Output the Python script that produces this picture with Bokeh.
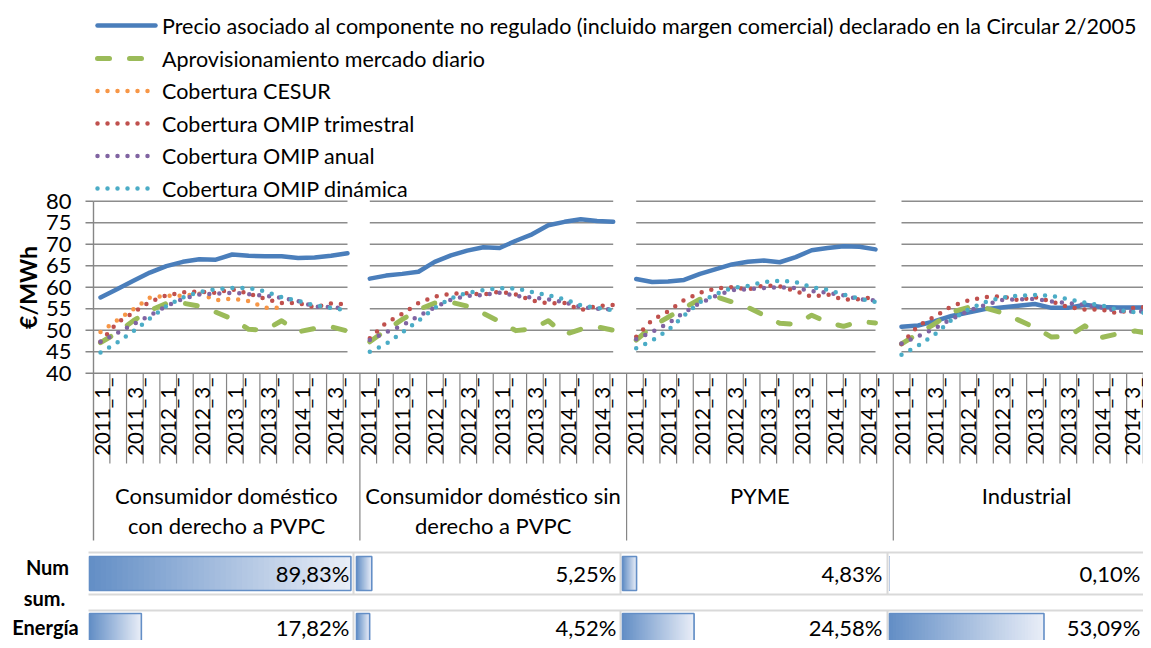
import numpy as np
from bokeh.plotting import figure
from bokeh.models import Range1d
from bokeh.core.properties import value
from bokeh.embed import file_html
from bokeh.resources import INLINE

# ---------------- data ----------------
quarter_labels = ["2011_1_", "2011_2_", "2011_3_", "2011_4_",
                  "2012_1_", "2012_2_", "2012_3_", "2012_4_",
                  "2013_1_", "2013_2_", "2013_3_", "2013_4_",
                  "2014_1_", "2014_2_", "2014_3_", "2014_4_"]
segment_titles = [["Consumidor doméstico", "con derecho a PVPC"],
                  ["Consumidor doméstico sin", "derecho a PVPC"],
                  ["PYME"],
                  ["Industrial"]]
y_ticks = [40, 45, 50, 55, 60, 65, 70, 75, 80]
y_tick_labels = ["40", "45", "50", "55", "60", "65", "70", "75", "80"]
y_axis_title = "€/MWh"

series_names = [
    "Precio asociado al componente no regulado (incluido margen comercial) declarado en la Circular 2/2005",
    "Aprovisionamiento mercado diario",
    "Cobertura CESUR",
    "Cobertura OMIP trimestral",
    "Cobertura OMIP anual",
    "Cobertura OMIP dinámica",
]

precio = [
    [57.6, 59.5, 61.5, 63.4, 64.9, 65.9, 66.5, 66.4, 67.6, 67.3, 67.2, 67.2, 66.8, 66.9, 67.3, 67.9],
    [62.0, 62.7, 63.1, 63.6, 65.9, 67.4, 68.5, 69.3, 69.1, 70.8, 72.3, 74.4, 75.2, 75.8, 75.4, 75.2],
    [61.9, 61.2, 61.3, 61.7, 63.1, 64.2, 65.3, 65.9, 66.2, 65.8, 67.0, 68.6, 69.1, 69.5, 69.4, 68.8],
    [50.8, 51.1, 52.1, 53.3, 54.1, 54.9, 55.3, 55.7, 56.1, 55.2, 55.2, 55.9, 55.4, 55.3, 55.3, 55.2],
]
diario = [
    [47.1, 49.4, 52.2, 54.6, 56.2, 56.3, 55.6, 54.2, 52.6, 50.2, 50.0, 52.2, 49.6, 50.4, 50.8, 49.8],
    [47.3, 50.0, 52.5, 54.8, 56.3, 56.5, 55.6, 53.9, 52.0, 49.9, 50.3, 52.2, 49.0, 50.2, 50.8, 50.0],
    [47.7, 50.9, 53.0, 55.2, 57.2, 57.8, 56.6, 55.3, 53.5, 51.6, 51.4, 53.5, 51.8, 50.9, 52.0, 51.7],
    [46.8, 49.2, 51.5, 54.2, 55.3, 55.2, 54.1, 52.4, 50.6, 48.4, 48.6, 51.0, 48.3, 49.2, 49.8, 49.1],
]
cesur = [
    [49.6, 52.3, 54.9, 57.6, 58.0, 58.0, 58.5, 57.0, 57.3, 56.8, 55.2, 55.2],
    [], [], [],
]
trimestral = [
    [47.3, 51.7, 54.1, 56.6, 58.1, 58.8, 59.0, 58.7, 59.5, 58.5, 57.3, 56.3, 56.3, 55.3, 56.2, 56.0],
    [48.1, 51.7, 53.8, 56.3, 57.8, 58.5, 58.6, 58.3, 59.0, 58.3, 56.9, 56.2, 56.3, 54.7, 55.6, 55.9],
    [48.5, 52.4, 54.4, 57.0, 58.7, 59.7, 60.0, 59.5, 60.4, 60.2, 59.1, 57.8, 58.3, 57.1, 57.2, 57.8],
    [46.8, 51.0, 53.2, 55.6, 56.9, 57.7, 57.9, 57.0, 57.7, 56.7, 55.4, 54.8, 54.8, 53.9, 55.3, 55.4],
]
anual = [
    [47.3, 49.3, 51.4, 53.4, 55.6, 57.3, 58.3, 58.5, 58.7, 58.4, 58.0, 57.5, 56.8, 55.5, 55.4, 55.0],
    [47.7, 49.5, 51.1, 53.3, 55.3, 57.1, 58.0, 58.2, 58.7, 58.0, 57.6, 57.2, 56.5, 55.4, 55.0, 54.8],
    [47.9, 49.6, 51.6, 54.1, 56.3, 58.0, 59.3, 59.5, 59.8, 60.0, 59.8, 59.1, 58.7, 58.1, 57.2, 56.9],
    [46.9, 48.6, 50.4, 52.6, 54.5, 55.8, 57.0, 57.2, 57.3, 56.7, 56.3, 55.9, 55.3, 54.4, 54.3, 54.4],
]
dinamica = [
    [44.8, 47.1, 49.8, 52.7, 55.6, 57.6, 58.9, 59.5, 59.8, 59.8, 59.0, 57.7, 56.8, 55.8, 55.2, 54.6],
    [45.0, 46.8, 49.5, 52.2, 55.2, 57.4, 58.7, 59.3, 59.8, 59.7, 58.9, 58.1, 57.2, 55.8, 55.2, 54.6],
    [45.8, 47.6, 50.0, 53.4, 56.5, 58.4, 59.8, 60.3, 61.2, 61.5, 61.2, 60.0, 59.4, 58.3, 57.3, 56.6],
    [44.3, 46.4, 49.0, 52.4, 54.8, 56.5, 57.6, 58.0, 58.2, 58.0, 57.2, 56.4, 55.8, 54.7, 54.2, 53.9],
]

table_row_labels = [["Num", "sum."], ["Energía"]]
num_sum = [89.83, 5.25, 4.83, 0.10]
energia = [17.82, 4.52, 24.58, 53.09]

# ---------------- layout / style ----------------
FIG_W, FIG_H = 1143, 640
X_LEFT, X_RIGHT = 0, FIG_W
Y_TOP, Y_BOTTOM = 0, FIG_H
Y80 = 200.7            # pixel row of value 80
PX_PER_UNIT = 4.3      # pixels per €/MWh
Y40 = Y80 + 40 * PX_PER_UNIT
AXIS_X = 93
CAT0 = 92.7
CAT_W = 266.7 / 16
LABEL_X_MAX = 1131
PANEL_LINE_SPANS = [(100, 347), (369.3, 612.7), (635.7, 875), (901, 1151)]
PANEL_GRID_SPANS = [(93, 347), (369.3, 612.7), (635.7, 875), (901, 1152)]

FONT = value("Lato")
GRID_C = "#8c8c8c"
AXIS_C = "#868686"
TXT_C = "#000000"

styles = [
    dict(line_color="#4a7ebb", line_width=4.5, line_cap="round", line_join="round"),
    dict(line_color="#9bbb59", line_width=5, line_dash="12 20", line_cap="round", line_join="round"),
    dict(line_color="#f79646", line_width=4.5, line_dash="0 10", line_cap="round"),
    dict(line_color="#c0504d", line_width=4.5, line_dash="0 10", line_cap="round"),
    dict(line_color="#8064a2", line_width=4.5, line_dash="0 10", line_cap="round"),
    dict(line_color="#4bacc6", line_width=4.5, line_dash="0 10", line_cap="round"),
]
all_series = [precio, diario, cesur, trimestral, anual, dinamica]

v_top = 80 + (Y80 - Y_TOP) / PX_PER_UNIT
v_bottom = 80 - (Y_BOTTOM - Y80) / PX_PER_UNIT

p = figure(width=FIG_W, height=FIG_H,
           x_range=Range1d(X_LEFT, X_RIGHT), y_range=Range1d(Y_BOTTOM, Y_TOP),
           x_axis_type=None, y_axis_type=None,
           toolbar_location=None, output_backend="svg", min_border=0)
p.outline_line_color = None
p.background_fill_color = "white"
p.extra_y_ranges = {"val": Range1d(v_bottom, v_top)}

# gridlines (per panel)
gx0, gx1, gy = [], [], []
for (a, b) in PANEL_GRID_SPANS:
    for t in y_ticks[1:]:
        gx0.append(a); gx1.append(b); gy.append(t)
p.segment(x0=gx0, x1=gx1, y0=gy, y1=gy, y_range_name="val",
          line_color=GRID_C, line_width=1.4)

# x axis line at 40 and y axis line
p.segment(x0=[AXIS_X], x1=[1152], y0=[y_ticks[0]], y1=[y_ticks[0]],
          y_range_name="val", line_color=AXIS_C, line_width=1.4)
p.segment(x0=[AXIS_X], x1=[AXIS_X], y0=[Y80], y1=[540], line_color=AXIS_C, line_width=1.4)
# y tick marks and labels
p.segment(x0=[85] * len(y_ticks), x1=[AXIS_X] * len(y_ticks), y0=y_ticks, y1=y_ticks,
          y_range_name="val", line_color=AXIS_C, line_width=1.4)
p.text(x=[71] * len(y_ticks), y=y_ticks, text=y_tick_labels, y_range_name="val",
       text_font=FONT, text_font_size=value("22px"), text_color=TXT_C,
       text_align="right", text_baseline="middle")
p.text(x=[27], y=[287], text=[y_axis_title], angle=np.pi / 2,
       text_font=FONT, text_font_size=value("23px"), text_font_style="bold",
       text_color=TXT_C, text_align="center", text_baseline="middle")

# category ticks
n_panels = len(segment_titles)
n_q = len(quarter_labels)
tx, ty1 = [], []
for k in range(1, n_panels * n_q + 1):
    tx.append(CAT0 + k * CAT_W)
    ty1.append(540 if k % n_q == 0 else 463)
p.segment(x0=tx, x1=tx, y0=[Y40] * len(tx), y1=ty1, line_color=AXIS_C, line_width=1.2)

lx, ltxt = [], []
for pi_ in range(n_panels):
    for i in range(0, n_q, 2):
        lx.append(min(CAT0 + (pi_ * n_q + i + 0.5) * CAT_W, LABEL_X_MAX))
        ltxt.append(quarter_labels[i])
p.text(x=lx, y=[377] * len(lx), text=ltxt, angle=np.pi / 2,
       text_font=FONT, text_font_size=value("20.5px"), text_color=TXT_C,
       text_align="right", text_baseline="middle")

# segment titles
sx, sy, st = [], [], []
for pi_, lines in enumerate(segment_titles):
    cx = CAT0 + (pi_ + 0.5) * n_q * CAT_W
    for j, t in enumerate(lines):
        sx.append(cx); sy.append(495 + 30 * j); st.append(t)
p.text(x=sx, y=sy, text=st, text_font=FONT, text_font_size=value("22px"),
       text_color=TXT_C, text_align="center", text_baseline="middle")

# series
for data, st_ in zip(all_series, styles):
    xs, ys = [], []
    for (a, b), vals in zip(PANEL_LINE_SPANS, data):
        if len(vals) == 0:
            continue
        xx = np.linspace(a, b, n_q)[:len(vals)]
        xs.append(list(xx)); ys.append(list(vals))
    p.multi_line(xs=xs, ys=ys, y_range_name="val", **st_)

# legend (drawn)
leg_rows = [25, 58, 90.5, 123, 155.5, 188]
for name, st_, yy in zip(series_names, styles, leg_rows):
    p.line(x=[97, 155], y=[yy, yy], **st_)
p.text(x=[161.5] * len(series_names), y=leg_rows, text=series_names,
       text_font=FONT, text_font_size=value("21.5px"), text_color=TXT_C,
       text_align="left", text_baseline="middle")

# ---------------- table with data bars ----------------
CELL_LEFT = [88, 355, 621, 888]
CELL_RIGHT = [353, 620, 887, 1152]
TEXT_RIGHT = [349, 616, 882, 1140]
PX_PER_PCT = 2.91
ROW_BOUNDS = [(556, 590), (613, 646)]
ROW_TEXT_Y = [573, 627]
TABLE_LINES_Y = [552, 594, 610]
BAR_C0 = np.array([99, 142, 198])
BAR_C1 = np.array([234, 239, 248])

p.segment(x0=[88] * 3, x1=[1152] * 3, y0=TABLE_LINES_Y, y1=TABLE_LINES_Y,
          line_color="#d9d9d9", line_width=2)
vx = CELL_RIGHT[:3] * 2
vy0 = [552] * 3 + [610] * 3
vy1 = [594] * 3 + [650] * 3
p.segment(x0=vx, x1=vx, y0=vy0, y1=vy1, line_color="#d9d9d9", line_width=2)

def fmt(v):
    return ("%.2f" % v).replace(".", ",") + "%"

for row_vals, (top, bot), ty in zip([num_sum, energia], ROW_BOUNDS, ROW_TEXT_Y):
    for c, v in enumerate(row_vals):
        x0 = CELL_LEFT[c] + 1
        x1 = x0 + v * PX_PER_PCT
        n = 48
        edges = np.linspace(x0, x1, n + 1)
        cols = []
        for j in range(n):
            f = (j + 0.5) / n
            rgb = (BAR_C0 * (1 - f) + BAR_C1 * f).astype(int)
            cols.append("#%02x%02x%02x" % tuple(rgb))
        # overlapping slices (each runs to the bar end) avoid seams
        p.quad(left=edges[:-1], right=[x1] * n, top=[top] * n, bottom=[bot] * n,
               fill_color=cols, line_color=None)
        if x1 - x0 >= 1:
            p.quad(left=[x0], right=[x1], top=[top], bottom=[bot], fill_color=None,
                   line_color="#638ec6", line_width=1.6)
    p.text(x=TEXT_RIGHT, y=[ty] * 4,
           text=[fmt(v) for v in row_vals], text_font=FONT, text_font_size=value("22px"),
           text_color=TXT_C, text_align="right", text_baseline="middle")

p.text(x=[47, 44], y=[566, 597], text=table_row_labels[0], text_font=FONT,
       text_font_size=value("20px"), text_font_style="bold", text_color=TXT_C,
       text_align="center", text_baseline="middle")
p.text(x=[45], y=[626], text=table_row_labels[1], text_font=FONT,
       text_font_size=value("20px"), text_font_style="bold", text_color=TXT_C,
       text_align="center", text_baseline="middle")

open("out.html", "w").write(file_html(p, INLINE))
